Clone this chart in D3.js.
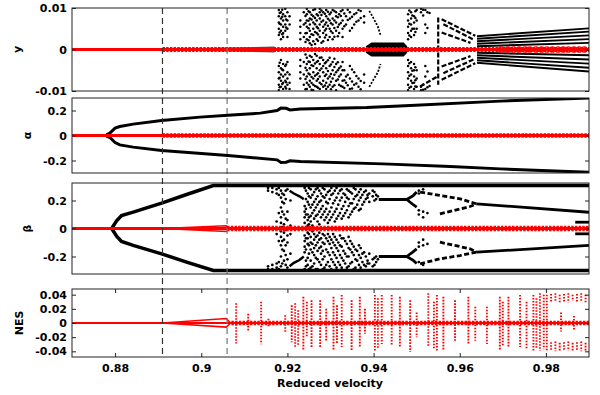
<!DOCTYPE html>
<html>
<head>
<meta charset="utf-8">
<script src="https://cdn.jsdelivr.net/npm/d3@7"></script>
<style>
  body { margin: 0; background: #fff; }
  text { font-family: "DejaVu Sans", sans-serif; font-weight: bold; font-size: 11px; fill: #000; }
</style>
</head>
<body>
<svg id="chart" width="600" height="395"></svg>
<script>
// ---- data ----
const xDomain = [0.87, 0.99];
const xTicks = [0.88, 0.9, 0.92, 0.94, 0.96, 0.98];
const xTickLabels = ["0.88", "0.9", "0.92", "0.94", "0.96", "0.98"];
const regimeMarks = [0.891, 0.906];   // dashed vertical lines

// y panel, values in units of 1e-3
const yTicks = [-10, 0, 10];
const yTickLabels = ["-0.01", "0", "0.01"];
const yFuzz = [[0.891, 0.15], [0.906, 0.5], [0.917, 0.7]];
const yCloud = [
  [0.9180, [9.5, 8, 6.5, 5, 3.5, -4, -5.5, -7, -8.5, -9.8]],
  [0.9182, [8.8, 6.2, 4.1, -3.2, -6.8, -9.1]],
  [0.9185, [9, 7.5, 6, 4.5, 2.5, -2.5, -4.5, -6, -7.5, -9]],
  [0.9188, [9.6, 7.9, 3.7, -4.8, -8.3]],
  [0.9190, [8.5, 7, 5.5, 4, 3, -3.5, -5, -6.5, -8, -9.5]],
  [0.9195, [9.8, 8, 6, 4.5, -4, -6, -7.5, -9]],
  [0.9197, [7.2, 5.3, -3.6, -7.9, -9.4]],
  [0.9200, [9, 7, 5, 3, -3, -5.5, -7, -8.5]],
  [0.9205, [8, 6, -6, -8, -9.5]],
  [0.9230, [7, 5.5, 4, 2.5, -2.5, -4, -5.5, -7]],
  [0.9238, [9, 6, 3, -3, -6, -8.5]],
  [0.9242, [8.1, 6.4, 3.9, 1.8, -1.2, -4.4, -7.1, -9.6]],
  [0.9245, [9.8, 8.5, 7, 5.5, 4, 2.5, -2, -3.5, -5, -6.5, -8, -9.5]],
  [0.9249, [9.2, 6.9, 5.1, 2.2, -2.9, -5.8, -8.5]],
  [0.9252, [9, 7.5, 6, 4.5, 3, 1.5, -1.5, -3, -4.5, -6, -7.5, -9]],
  [0.9256, [8.4, 7.2, 3.7, 1.1, -1.8, -3.8, -6.6, -8.1, -9.7]],
  [0.9260, [9.5, 8, 6.5, 5, 3.5, 2, -2.5, -4, -5.5, -7, -8.5, -9.8]],
  [0.9264, [9.7, 7.6, 6.1, 4.2, 1.3, -1.1, -3.4, -6.3, -8.8]],
  [0.9268, [8.5, 7, 5.5, 4, 2.5, -1.5, -3, -4.5, -6, -7.5, -9]],
  [0.9271, [8.2, 5.1, 3.6, 2.1, -2.8, -5.7, -7.1, -9.2]],
  [0.9275, [9.8, 9, 7.5, 6, 4.5, 3, -2, -3.5, -5, -6.5, -8, -9.5]],
  [0.9279, [9.4, 8.3, 6.7, 1.6, -1.9, -4.6, -8.4]],
  [0.9283, [9, 7, 5.5, 4, 2, -2.5, -4, -5.5, -7.5, -9]],
  [0.9287, [8.6, 6.0, 4.6, 2.9, -3.3, -6.4, -8.7]],
  [0.9290, [9.5, 8, 6.5, 5, 3.5, -3, -4.5, -6, -8, -9.5]],
  [0.9294, [9.1, 7.4, 5.7, 2.3, -2.6, -5.2, -7.0, -9.0]],
  [0.9298, [8.5, 7, 5, 3, -2, -4, -6.5, -8.5]],
  [0.9301, [8.9, 6.3, 4.4, -3.6, -5.9, -7.8, -9.6]],
  [0.9305, [9.5, 7.5, 6, 4, 2.5, -3, -5, -7, -9]],
  [0.9309, [9.3, 7.0, 5.2, 3.1, -2.2, -4.2, -6.1, -8.6]],
  [0.9313, [9, 8, 6.5, 4.5, -3.5, -5.5, -7.5, -9.8]],
  [0.9317, [7.8, 5.4, 3.2, -3.1, -5.0, -7.2]],
  [0.9320, [8.5, 6, 4, -4.5, -6.5, -8.5]],
  [0.9324, [9.2, 8.1, 6.4, -4.1, -6.0, -8.8]],
  [0.9328, [9.5, 7, 5, 3, -3, -5, -7.5, -9]],
  [0.9332, [8.7, 5.6, -5.0, -7.4, -9.3]],
  [0.9336, [8, 6, -6.5, -8]],
  [0.9340, [9.6, 7.1, -6.1, -8.6]],
  [0.9345, [9, 7.5, 4.5, -4, -7, -9.5]],
  [0.9350, [7.9, 5.2, -4.8, -7.7, -9.4]],
  [0.9355, [8.5, 6, -5.5, -8.5]],
  [0.9360, [8.8, 6.7, -6.4, -8.2]],
  [0.9365, [9.5, 7, -7, -9]],
  [0.9370, [9.3, 7.6, -7.6, -9.6]],
  [0.9378, [8, 6.5, -6, -8]],
  [0.9480, [8.5, 7, 5.5, 4, 2.5, -2.5, -4, -5.5, -7, -8.5, -9.8]],
  [0.9483, [9.4, 6.2, 3.4, -3.3, -6.3, -9.2]],
  [0.9487, [9, 7.5, 6, 4.5, 3, -3, -4.5, -6, -7.5, -9]],
  [0.9490, [8.2, 5.0, -5.1, -8.1]],
  [0.9494, [8, 6.5, 5, 3.5, -3.5, -5, -6.5, -8, -9.5]],
  [0.9497, [9.2, 7.6, 4.2, -4.3, -7.4, -8.9]],
  [0.9500, [9.5, 7, 5, -5, -7, -9]],
  [0.9510, [9.8, 9, -9, -9.8]],
  [0.9515, [9.6, 8.2, -8.5, -9.7]],
  [0.9520, [9.5, 6, 4, -4, -6.5, -9.5]],
  [0.9525, [9.0, 5.2, -5.3, -9.1]],
  [0.9530, [8.8, -8.8]]
];
const yBand = [[0.9382, 0.8], [0.9395, 1.7], [0.9470, 1.7], [0.9478, 0.8]];
const yArcs = [
  [[0.9390, 9.3], [0.9400, 7.5], [0.9410, 5.5], [0.9416, 3.5]],
  [[0.9390, -9], [0.9400, -7.2], [0.9410, -5.5], [0.9416, -3.5]]
];
const ySteps = [
  [[0.9558, 7.3], [0.9636, 3.3]],
  [[0.9562, 6.1], [0.9632, 2.4]],
  [[0.9558, 4.1], [0.9625, 1.6]],
  [[0.9558, -7.3], [0.9636, -3.3]],
  [[0.9562, -5.7], [0.9632, -2.4]],
  [[0.9558, -4.1], [0.9625, -1.6]],
  [[0.9508, -8.9], [0.9548, -6.5]],
  [[0.9550, 7.7], [0.9550, -8.5]]
];
const yFan = [
  [[0.964, 0.8], [0.99, 1.6]], [[0.964, 1.4], [0.99, 2.5]], [[0.964, 2.0], [0.99, 3.4]],
  [[0.964, 2.6], [0.99, 4.3]], [[0.964, 3.2], [0.99, 5.1]],
  [[0.964, -0.8], [0.99, -1.4]], [[0.964, -1.4], [0.99, -2.4]], [[0.964, -2.0], [0.99, -3.4]],
  [[0.964, -2.6], [0.99, -4.4]], [[0.964, -3.2], [0.99, -5.3]]
];
const yRedRings = [0.9696, 0.9712, 0.9725, 0.9738, 0.9752, 0.9763, 0.9777, 0.9790,
  0.9802, 0.9815, 0.9828, 0.9840, 0.9852, 0.9865, 0.9877, 0.9889];

// alpha panel
const alphaTicks = [-0.2, 0, 0.2];
const alphaTickLabels = ["-0.2", "0", "0.2"];
const alphaUpper = [[0.878, 0.005], [0.8788, 0.019], [0.880, 0.059], [0.8811, 0.072], [0.8842, 0.091],
  [0.8908, 0.12], [0.8997, 0.147], [0.9062, 0.162], [0.9137, 0.179], [0.9176, 0.2], [0.9185, 0.219],
  [0.9197, 0.218], [0.9206, 0.205], [0.923, 0.212], [0.9384, 0.224], [0.9485, 0.24], [0.9694, 0.275], [0.99, 0.3]];
const alphaLower = [[0.878, -0.005], [0.8788, -0.016], [0.880, -0.056], [0.8811, -0.075], [0.8842, -0.093],
  [0.8908, -0.12], [0.9062, -0.16], [0.9176, -0.195], [0.9185, -0.216], [0.9197, -0.214], [0.9206, -0.203],
  [0.923, -0.208], [0.9422, -0.227], [0.9578, -0.248], [0.9694, -0.267], [0.99, -0.295]];

// beta panel
const betaTicks = [-0.2, 0, 0.2];
const betaTickLabels = ["-0.2", "0", "0.2"];
const betaUpper = [[0.8792, 0], [0.8804, 0.057], [0.8815, 0.093], [0.8842, 0.117], [0.8908, 0.181],
  [0.8966, 0.243], [0.9028, 0.307], [0.99, 0.307]];
const betaLower = [[0.8792, 0], [0.8804, -0.057], [0.8815, -0.093], [0.8842, -0.121], [0.8908, -0.181],
  [0.8966, -0.24], [0.9028, -0.3], [0.99, -0.3]];
const betaCloud = [
  [0.9155, [0.29, 0.27, -0.27, -0.29]],
  [0.9165, [0.29, 0.26, -0.26, -0.29]],
  [0.9175, [0.28, 0.25, 0.05, -0.04, -0.25, -0.28]],
  [0.9180, [0.29, 0.24, 0.11, -0.09, -0.24, -0.29]],
  [0.9185, [0.27, 0.22, 0.15, 0.08, 0.04, -0.02, -0.06, -0.12, -0.2, -0.27]],
  [0.9188, [0.25, 0.19, 0.12, 0.01, -0.09, -0.15, -0.25]],
  [0.9192, [0.24, 0.18, 0.1, 0.03, -0.03, -0.08, -0.16, -0.23]],
  [0.9196, [0.27, 0.21, 0.07, -0.01, -0.12, -0.19, -0.26]],
  [0.9200, [0.28, 0.12, 0.06, -0.05, -0.1, -0.22, -0.28]],
  [0.9207, [0.2, 0.02, -0.04, -0.18]],
  [0.9240, [0.29, 0.16, 0.12, 0.08, 0.04, -0.05, -0.09, -0.13, -0.17, -0.29]],
  [0.9243, [0.27, 0.21, 0.14, 0.1, 0.01, -0.07, -0.15, -0.23, -0.27]],
  [0.9247, [0.25, 0.19, 0.1, 0.06, 0.02, -0.03, -0.07, -0.11, -0.21, -0.26]],
  [0.9250, [0.29, 0.23, 0.17, 0.08, 0.03, -0.04, -0.12, -0.18, -0.29]],
  [0.9254, [0.28, 0.22, 0.15, 0.09, 0.05, -0.06, -0.1, -0.15, -0.23, -0.28]],
  [0.9258, [0.24, 0.17, 0.11, 0.02, -0.02, -0.11, -0.17, -0.27]],
  [0.9262, [0.26, 0.19, 0.13, 0.07, -0.04, -0.08, -0.14, -0.19, -0.25]],
  [0.9266, [0.28, 0.21, 0.15, 0.09, -0.06, -0.12, -0.21, -0.29]],
  [0.9270, [0.29, 0.23, 0.17, 0.1, 0.05, -0.05, -0.1, -0.16, -0.22, -0.29]],
  [0.9274, [0.27, 0.19, 0.12, 0.03, -0.03, -0.08, -0.14, -0.24]],
  [0.9278, [0.25, 0.2, 0.14, 0.08, -0.07, -0.13, -0.18, -0.26]],
  [0.9282, [0.29, 0.23, 0.16, 0.1, -0.04, -0.1, -0.16, -0.22, -0.29]],
  [0.9286, [0.28, 0.22, 0.12, 0.06, -0.05, -0.11, -0.2, -0.28]],
  [0.9290, [0.24, 0.19, 0.14, 0.08, -0.07, -0.15, -0.26]],
  [0.9294, [0.26, 0.18, 0.1, 0.04, -0.04, -0.09, -0.17, -0.24]],
  [0.9298, [0.27, 0.21, 0.12, 0.06, -0.06, -0.11, -0.19, -0.27]],
  [0.9302, [0.29, 0.24, 0.15, 0.08, -0.08, -0.14, -0.22, -0.29]],
  [0.9306, [0.25, 0.18, 0.1, -0.04, -0.1, -0.17, -0.24]],
  [0.9310, [0.27, 0.2, 0.12, 0.05, -0.06, -0.12, -0.19, -0.26]],
  [0.9314, [0.29, 0.22, 0.14, 0.07, -0.08, -0.14, -0.21, -0.28]],
  [0.9318, [0.25, 0.17, 0.09, -0.1, -0.16, -0.24]],
  [0.9322, [0.27, 0.2, 0.11, -0.05, -0.12, -0.19, -0.26]],
  [0.9326, [0.28, 0.22, 0.14, 0.07, -0.07, -0.13, -0.21, -0.28]],
  [0.9330, [0.25, 0.16, 0.09, -0.07, -0.16, -0.23]],
  [0.9334, [0.24, 0.19, 0.11, -0.09, -0.18, -0.25]],
  [0.9338, [0.28, 0.22, 0.13, -0.11, -0.2, -0.28]],
  [0.9342, [0.27, 0.21, 0.16, 0.08, -0.06, -0.14, -0.2, -0.27]],
  [0.9346, [0.26, 0.18, 0.1, -0.09, -0.15, -0.25]],
  [0.9350, [0.25, 0.18, 0.12, -0.11, -0.17, -0.24]],
  [0.9354, [0.29, 0.21, 0.14, -0.13, -0.19, -0.29]],
  [0.9358, [0.28, 0.23, 0.15, -0.15, -0.22, -0.28]],
  [0.9362, [0.24, 0.17, -0.16, -0.23]],
  [0.9366, [0.26, 0.2, 0.13, -0.12, -0.19, -0.26]],
  [0.9370, [0.28, 0.22, 0.14, -0.14, -0.21, -0.28]],
  [0.9374, [0.24, 0.17, -0.18, -0.24]],
  [0.9378, [0.26, 0.19, -0.17, -0.26]],
  [0.9382, [0.27, 0.21, -0.2, -0.27]],
  [0.9386, [0.24, 0.22, -0.23, -0.25]],
  [0.9390, [0.25, 0.19, -0.18, -0.25]],
  [0.9398, [0.27, 0.23, -0.22, -0.27]],
  [0.9402, [0.26, 0.2, -0.21, -0.26]],
  [0.9406, [0.24, 0.21, -0.2, -0.24]],
  [0.9410, [0.23, -0.22]],
  [0.9505, [0.27, 0.25, 0.13, 0.1, -0.1, -0.13, -0.24]],
  [0.9515, [0.28, 0.12, 0.08, -0.08, -0.12, -0.26]],
  [0.9525, [0.11, -0.11]]
];
const betaArcs = [
  [[0.9205, 0.27], [0.9215, 0.25], [0.9228, 0.23], [0.9238, 0.21]],
  [[0.9205, -0.27], [0.9215, -0.245], [0.9228, -0.225], [0.9238, -0.2]]
];
const betaBranches = [
  [[0.9412, 0.207], [0.9477, 0.207], [0.9492, 0.235], [0.9500, 0.26]],
  [[0.9477, 0.207], [0.9490, 0.175], [0.9500, 0.152]],
  [[0.9412, -0.2], [0.9477, -0.2], [0.9492, -0.228], [0.9500, -0.25]],
  [[0.9477, -0.2], [0.9490, -0.17], [0.9500, -0.145]],
  [[0.9639, 0.176], [0.99, 0.116]],
  [[0.9639, -0.169], [0.99, -0.121]],
  [[0.9868, 0.045], [0.99, 0.045]],
  [[0.9868, -0.038], [0.99, -0.038]]
];
const betaBroken = [
  [[0.9508, 0.26], [0.9554, 0.236], [0.9601, 0.212], [0.9639, 0.176]],
  [[0.9554, 0.105], [0.9624, 0.157], [0.9639, 0.176]],
  [[0.9508, -0.252], [0.9554, -0.217], [0.9601, -0.193], [0.9639, -0.169]],
  [[0.9554, -0.098], [0.9624, -0.145], [0.9639, -0.169]]
];
const betaRedLoop = [
  [[0.891, 0], [0.9058, 0.019], [0.9066, 0]],
  [[0.891, 0], [0.9058, -0.022], [0.9066, 0]]
];

// NES panel
const nesTicks = [-0.04, -0.02, 0, 0.02, 0.04];
const nesTickLabels = ["-0.04", "-0.02", "0", "0.02", "0.04"];
const nesRedLoop = [
  [[0.891, 0], [0.9058, 0.0062], [0.9068, 0]],
  [[0.891, 0], [0.9058, -0.0058], [0.9068, 0]]
];
// [x, top, bottom] of each vertical streak of points
const nesStreaks = [
  [0.9081, 0.028, -0.029], [0.9109, 0.013, -0.011], [0.9139, 0.030, -0.030], [0.9156, 0.006, -0.006],
  [0.9195, 0.011, -0.013], [0.9210, 0.025, -0.027], [0.9218, 0.028, -0.034], [0.9225, 0.018, -0.032],
  [0.9237, 0.037, -0.039], [0.9245, 0.030, -0.020], [0.9256, 0.032, -0.034], [0.9276, 0.032, -0.034],
  [0.9290, 0.020, -0.025], [0.9307, 0.037, -0.039], [0.9315, 0.025, -0.030], [0.9326, 0.0395, -0.034],
  [0.9349, 0.032, -0.039], [0.9368, 0.037, -0.034], [0.9380, 0.020, -0.015], [0.9403, 0.0395, -0.039],
  [0.9410, 0.035, -0.036], [0.9419, 0.0395, -0.0295], [0.9442, 0.0395, -0.032], [0.9461, 0.037, -0.034],
  [0.9485, 0.032, -0.041], [0.9500, 0.015, -0.020], [0.9527, 0.042, -0.034], [0.9540, 0.030, -0.036],
  [0.9547, 0.0395, -0.041], [0.9562, 0.037, -0.039], [0.9589, 0.032, -0.025], [0.9620, 0.037, -0.0295],
  [0.9636, 0.023, -0.025], [0.9663, 0.023, -0.0295], [0.9693, 0.037, -0.039], [0.9700, 0.030, -0.032],
  [0.9713, 0.037, -0.034], [0.9740, 0.0395, -0.034], [0.9755, 0.030, -0.036], [0.9771, 0.0395, -0.039],
  [0.9778, 0.035, -0.037], [0.9786, 0.042, -0.039], [0.9795, 0.040, -0.037], [0.9802, 0.040, -0.039],
  [0.9835, 0.015, -0.012], [0.9865, 0.010, -0.010],
  [0.9812, 0.041, 0.029], [0.9822, 0.042, 0.030], [0.9832, 0.040, 0.028], [0.9842, 0.041, 0.030],
  [0.9852, 0.042, 0.029], [0.9862, 0.040, 0.031], [0.9872, 0.041, 0.029], [0.9882, 0.042, 0.030],
  [0.9892, 0.040, 0.028],
  [0.9812, -0.027, -0.039], [0.9822, -0.026, -0.040], [0.9832, -0.028, -0.039], [0.9842, -0.027, -0.040],
  [0.9852, -0.026, -0.039], [0.9862, -0.028, -0.040], [0.9872, -0.027, -0.039], [0.9882, -0.026, -0.040],
  [0.9892, -0.028, -0.039]
];

// ---- layout ----
const left = 72, right = 589;
const panels = [
  { label: "y", top: 8, bottom: 91, domain: [-10, 10], ticks: yTicks, tickLabels: yTickLabels, labelX: 21 },
  { label: "α", top: 98, bottom: 173, domain: [-0.3, 0.3], ticks: alphaTicks, tickLabels: alphaTickLabels, labelX: 31 },
  { label: "β", top: 183, bottom: 274, domain: [-0.325, 0.325], ticks: betaTicks, tickLabels: betaTickLabels, labelX: 31 },
  { label: "NES", top: 289, bottom: 357, domain: [-0.048, 0.048], ticks: nesTicks, tickLabels: nesTickLabels, labelX: 23 }
];

const svg = d3.select("#chart");
const x = d3.scaleLinear().domain(xDomain).range([left, right]);

function makePanel(i) {
  var p = panels[i];
  var y = d3.scaleLinear().domain(p.domain).range([p.bottom, p.top]);
  svg.append("clipPath").attr("id", "clip" + i)
    .append("rect").attr("x", left).attr("y", p.top)
    .attr("width", right - left).attr("height", p.bottom - p.top);
  var g = svg.append("g").attr("clip-path", "url(#clip" + i + ")");
  return { p: p, y: y, g: g, line: d3.line().x(d => x(d[0])).y(d => y(d[1])) };
}

function path(P, data, color, width, dash) {
  return P.g.append("path").datum(data)
    .attr("d", P.line)
    .attr("fill", "none")
    .attr("stroke", color)
    .attr("stroke-width", width)
    .attr("stroke-dasharray", dash || null);
}

function cloud(P, cols, r, color) {
  var pts = cols.flatMap(c => c[1].map(v => [c[0], v]));
  P.g.append("g").selectAll("circle").data(pts).enter().append("circle")
    .attr("cx", d => x(d[0])).attr("cy", d => P.y(d[1]))
    .attr("r", r).attr("fill", color);
}

function band(P, data, color) {
  var area = d3.area().x(d => x(d[0])).y0(d => P.y(-d[1])).y1(d => P.y(d[1]));
  P.g.append("path").datum(data).attr("d", area).attr("fill", color);
}

// the red trivial solution at zero, with a fuzzy thicker part
function redZero(P, from, base, fuzz) {
  path(P, [[xDomain[0], 0], [xDomain[1], 0]], "#ff0000", base);
  path(P, [[from, 0], [xDomain[1], 0]], "#ff0000", fuzz, "2.5 1.2");
}

// ---- panel 1: y ----
var P1 = makePanel(0);
band(P1, yFuzz, "#555");
cloud(P1, yCloud, 1.25, "#000");
band(P1, yBand, "#000");
yArcs.forEach(a => path(P1, a, "#000", 1.8, "2 1.5"));
ySteps.forEach(a => path(P1, a, "#000", 2.2, "5 2"));
yFan.forEach(a => path(P1, a, "#000", 1.9));
redZero(P1, 0.891, 3, 5);
P1.g.append("g").selectAll("circle").data(yRedRings).enter().append("circle")
  .attr("cx", d => x(d)).attr("cy", P1.y(0)).attr("r", 2.7)
  .attr("fill", "none").attr("stroke", "#ff0000").attr("stroke-width", 1.3);

// ---- panel 2: alpha ----
var P2 = makePanel(1);
path(P2, alphaUpper, "#000", 3);
path(P2, alphaLower, "#000", 3);
redZero(P2, 0.891, 2.8, 4.5);

// ---- panel 3: beta ----
var P3 = makePanel(2);
path(P3, betaUpper, "#000", 3.5);
path(P3, betaLower, "#000", 3.5);
cloud(P3, betaCloud, 1.35, "#000");
betaArcs.forEach(a => path(P3, a, "#000", 2.5));
betaBranches.forEach(a => path(P3, a, "#000", 2.8));
betaBroken.forEach(a => path(P3, a, "#000", 2.8, "5 2.5"));
redZero(P3, 0.906, 3, 5.5);
betaRedLoop.forEach(a => path(P3, a, "#ff0000", 1.5));

// ---- panel 4: NES ----
var P4 = makePanel(3);
P4.g.append("g").selectAll("line").data(nesStreaks).enter().append("line")
  .attr("x1", d => x(d[0])).attr("x2", d => x(d[0]))
  .attr("y1", d => P4.y(d[1])).attr("y2", d => P4.y(d[2]))
  .attr("stroke", "#ff0000").attr("stroke-width", 1.9).attr("stroke-dasharray", "1.6 1.4");
redZero(P4, 0.907, 2.2, 4.5);
nesRedLoop.forEach(a => path(P4, a, "#ff0000", 1.5));

// ---- dashed regime lines across all panels ----
svg.append("g").selectAll("line").data(regimeMarks).enter().append("line")
  .attr("x1", d => x(d)).attr("x2", d => x(d))
  .attr("y1", panels[0].top).attr("y2", panels[3].bottom)
  .attr("stroke", (d, i) => i === 0 ? "#333" : "#777")
  .attr("stroke-width", 1.2).attr("stroke-dasharray", "6 4");

// ---- frames, axes, labels ----
[P1, P2, P3, P4].forEach(function (P) {
  var p = P.p;
  svg.append("rect").attr("x", left).attr("y", p.top)
    .attr("width", right - left).attr("height", p.bottom - p.top)
    .attr("fill", "none").attr("stroke", "#222").attr("stroke-width", 1);

  var la = svg.append("g").attr("transform", "translate(" + left + ",0)")
    .call(d3.axisLeft(P.y).tickValues(p.ticks).tickSizeInner(-4).tickSizeOuter(0).tickPadding(5)
      .tickFormat((d, k) => p.tickLabels[k]));
  la.select(".domain").remove();

  var ra = svg.append("g").attr("transform", "translate(" + right + ",0)")
    .call(d3.axisRight(P.y).tickValues(p.ticks).tickSizeInner(-4).tickSizeOuter(0).tickFormat(""));
  ra.select(".domain").remove();

  svg.append("text")
    .attr("transform", "translate(" + p.labelX + "," + ((p.top + p.bottom) / 2) + ") rotate(-90)")
    .attr("text-anchor", "middle")
    .text(p.label);
});

var bx = svg.append("g").attr("transform", "translate(0," + panels[3].bottom + ")")
  .call(d3.axisBottom(x).tickValues(xTicks).tickSizeInner(-4).tickSizeOuter(0).tickPadding(7)
    .tickFormat((d, k) => xTickLabels[k]));
bx.select(".domain").remove();
var tx = svg.append("g").attr("transform", "translate(0," + panels[3].top + ")")
  .call(d3.axisTop(x).tickValues(xTicks).tickSizeInner(-4).tickSizeOuter(0).tickFormat(""));
tx.select(".domain").remove();

svg.selectAll(".tick text").style("font-family", "DejaVu Sans, sans-serif")
  .style("font-weight", "bold").style("font-size", "11px").attr("fill", "#000");
svg.selectAll(".tick line").attr("stroke", "#222");

svg.append("text").attr("x", 330).attr("y", 387).attr("text-anchor", "middle")
  .text("Reduced velocity");
</script>
</body>
</html>
